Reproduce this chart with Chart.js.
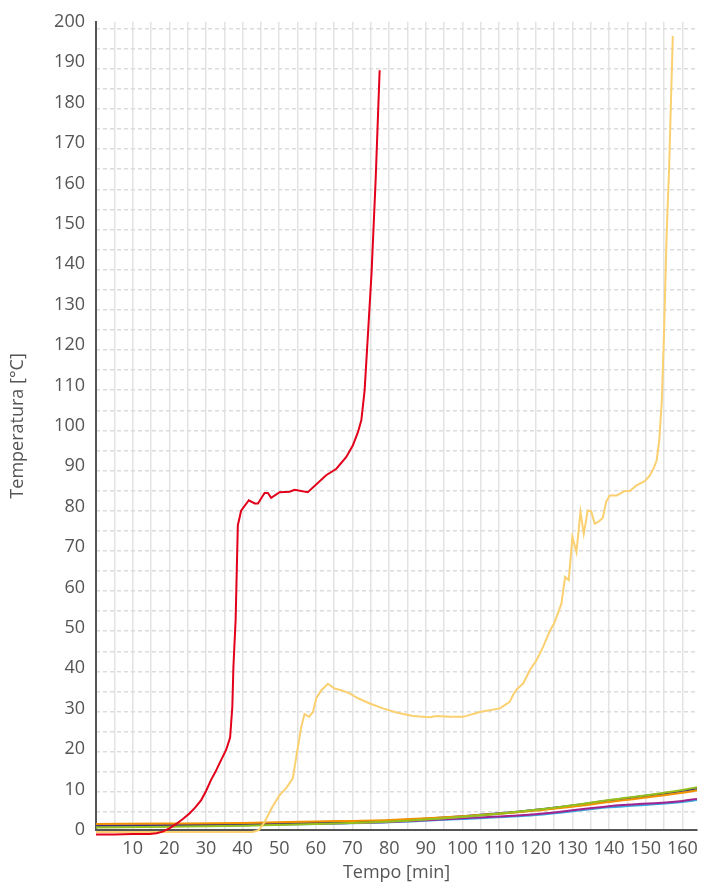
<!DOCTYPE html>
<html>
<head>
<meta charset="utf-8">
<script src="https://cdn.jsdelivr.net/npm/chart.js@4.4.1/dist/chart.umd.min.js"></script>
<style>
    html, body { margin: 0; padding: 0; background: #fff; }
    #wrap { width: 702px; height: 884px; position: relative; }
</style>
</head>
<body>
<div id="wrap"><canvas id="chart"></canvas></div>
<script>
// Red curve (min, °C)
const redTime = [0, 5, 10, 14.6, 16.5, 18.2, 20, 21.9, 23.7, 25.5, 27.1, 28.7, 30, 31.4, 32.6, 33.7, 35.5, 36.6, 37.2, 37.5, 38.1, 38.7, 39.6, 41.7, 43.3, 44.2, 46, 46.9, 47.8, 50.1, 52.8, 54.2, 57.8, 62.8, 65.6, 68.3, 70.1, 71.5, 72.4, 73.3, 74.1, 75.2, 76.3, 77.4];
const redTemp = [-1.1, -1.1, -1.0, -1.0, -0.8, -0.4, 0.4, 1.5, 2.7, 4.1, 5.6, 7.4, 9.6, 12.4, 14.4, 16.5, 19.8, 22.9, 30.5, 40.4, 52, 75.4, 79, 81.6, 80.8, 80.8, 83.4, 83.4, 82.2, 83.6, 83.7, 84.2, 83.6, 87.8, 89.4, 92.3, 95.2, 98.5, 101.4, 108.8, 121, 138, 160.7, 188];

// Yellow curve
const yellowTime = [0, 20, 42.8, 44.5, 46, 48, 50, 52, 53.7, 54.6, 56, 56.9, 58.1, 59.2, 60.1, 61.5, 63.3, 65.1, 66.9, 69.2, 71.5, 74.7, 78.3, 82, 86.5, 91.1, 92.9, 96.5, 100.2, 104.7, 110.2, 112.9, 113.8, 114.8, 116.6, 118.4, 120.2, 122, 123.9, 125, 127, 128, 129, 130, 131.1, 132.2, 133.1, 134.2, 135.1, 136.1, 137.3, 138.3, 139.2, 140.2, 142.1, 144.3, 145.7, 147.5, 149.8, 151.2, 152.3, 153, 153.7, 154.4, 155, 155.7, 156.4, 156.9, 157.4];
const yellowTemp = [-0.5, -0.5, -0.5, 0, 2, 5.5, 8.5, 10.5, 12.8, 17.8, 25.5, 28.7, 28, 29.2, 32.6, 34.6, 36.2, 35, 34.6, 33.8, 32.6, 31.3, 30.1, 29.1, 28.2, 27.9, 28.2, 28, 28, 29.2, 30.1, 31.7, 33.4, 34.8, 36.3, 39.6, 42, 45.3, 49.4, 51.1, 56, 62.6, 61.8, 72.5, 68.8, 78.7, 73.3, 79.1, 78.9, 75.8, 76.4, 77.3, 81.2, 82.8, 82.8, 83.9, 83.9, 85.3, 86.4, 87.8, 89.8, 91.5, 96.4, 106.3, 122.8, 147, 164, 180.5, 196.5];

// Slow curves near the bottom
const baseTime    = [0, 20, 40, 60, 80, 100, 120, 140, 160, 164];
const orangeTemp  = [1.5, 1.6, 1.75, 2.1, 2.5, 3.4, 4.8, 6.9, 9.2, 9.8];
const navyTemp    = [1.1, 1.2, 1.35, 1.75, 2.3, 3.4, 5.0, 7.3, 9.7, 10.3];
const tanTemp     = [0.85, 0.95, 1.15, 1.55, 2.1, 3.2, 4.9, 7.1, 9.5, 10.1];
const greenTemp   = [0.6, 0.8, 1.05, 1.5, 2.1, 3.3, 5.0, 7.4, 9.9, 10.6];
const magentaTemp = [1.0, 1.1, 1.3, 1.6, 2.0, 2.9, 3.9, 5.9, 7.2, 7.7];
const blueTemp    = [0.9, 1.0, 1.2, 1.5, 1.9, 2.7, 3.7, 5.6, 6.9, 7.4];

const xTicks = [10, 20, 30, 40, 50, 60, 70, 80, 90, 100, 110, 120, 130, 140, 150, 160];

function pts(times, temps) {
    return times.map((t, i) => ({ x: t, y: temps[i] }));
}

const fontFamily = '"Open Sans", sans-serif';
const textColor = '#555';

function slowLine(data, color) {
    return {
        data: pts(baseTime, data),
        borderColor: color,
        borderWidth: 2,
        pointRadius: 0,
        cubicInterpolationMode: 'monotone',
        clip: false
    };
}

const ctx = document.getElementById('chart').getContext('2d');
new Chart(ctx, {
    type: 'line',
    data: {
        datasets: [
            { data: pts(redTime, redTemp), borderColor: '#e2001a', borderWidth: 2, pointRadius: 0, tension: 0, clip: false },
            { data: pts(yellowTime, yellowTemp), borderColor: '#fbd070', borderWidth: 2, pointRadius: 0, tension: 0, clip: false },
            slowLine(greenTemp, '#95c11f'),
            slowLine(orangeTemp, '#f39200'),
            slowLine(navyTemp, '#3c2f80'),
            slowLine(tanTemp, '#a89c7c'),
            slowLine(magentaTemp, '#a2238e'),
            slowLine(blueTemp, '#36a9e1')
        ]
    },
    options: {
        responsive: true,
        maintainAspectRatio: false,
        animation: false,
        layout: { padding: { top: 20, right: 5, left: 0, bottom: 0 } },
        plugins: {
            legend: { display: false },
            tooltip: { enabled: false }
        },
        scales: {
            x: {
                type: 'linear',
                min: 0,
                max: 164,
                afterFit: s => { s.height = 54; s.paddingRight = 0; s.paddingLeft = 0; },
                ticks: {
                    stepSize: 5,
                    includeBounds: false,
                    autoSkip: false,
                    maxRotation: 0,
                    padding: 8,
                    color: textColor,
                    font: { family: fontFamily, size: 18 },
                    callback: v => xTicks.includes(v) ? String(v) : ''
                },
                grid: { color: '#e3e3e3', lineWidth: 1.5, drawTicks: false },
                border: { display: true, color: '#555', width: 2 },
                title: {
                    display: true,
                    text: 'Tempo [min]',
                    color: textColor,
                    font: { family: fontFamily, size: 18 },
                    padding: { top: 0, bottom: 0 }
                }
            },
            y: {
                type: 'linear',
                position: 'left',
                min: 0,
                max: 200,
                afterFit: s => { s.width = 96; },
                ticks: {
                    stepSize: 10,
                    padding: 11,
                    color: textColor,
                    font: { family: fontFamily, size: 18 }
                },
                grid: { display: false, drawTicks: false },
                border: { display: true, color: '#555', width: 2 },
                title: {
                    display: true,
                    text: 'Temperatura [°C]',
                    color: textColor,
                    font: { family: fontFamily, size: 18 },
                    padding: { top: 7, bottom: 0 }
                }
            },
            yGrid: {
                type: 'linear',
                position: 'right',
                min: 0.52,
                max: 201.7,
                afterFit: s => { s.width = 0; },
                ticks: { display: false, stepSize: 5, includeBounds: false },
                grid: { color: '#dcdcdc', lineWidth: 1.5, drawTicks: false },
                border: { display: false, dash: [4, 3] }
            }
        }
    }
});
</script>
</body>
</html>
